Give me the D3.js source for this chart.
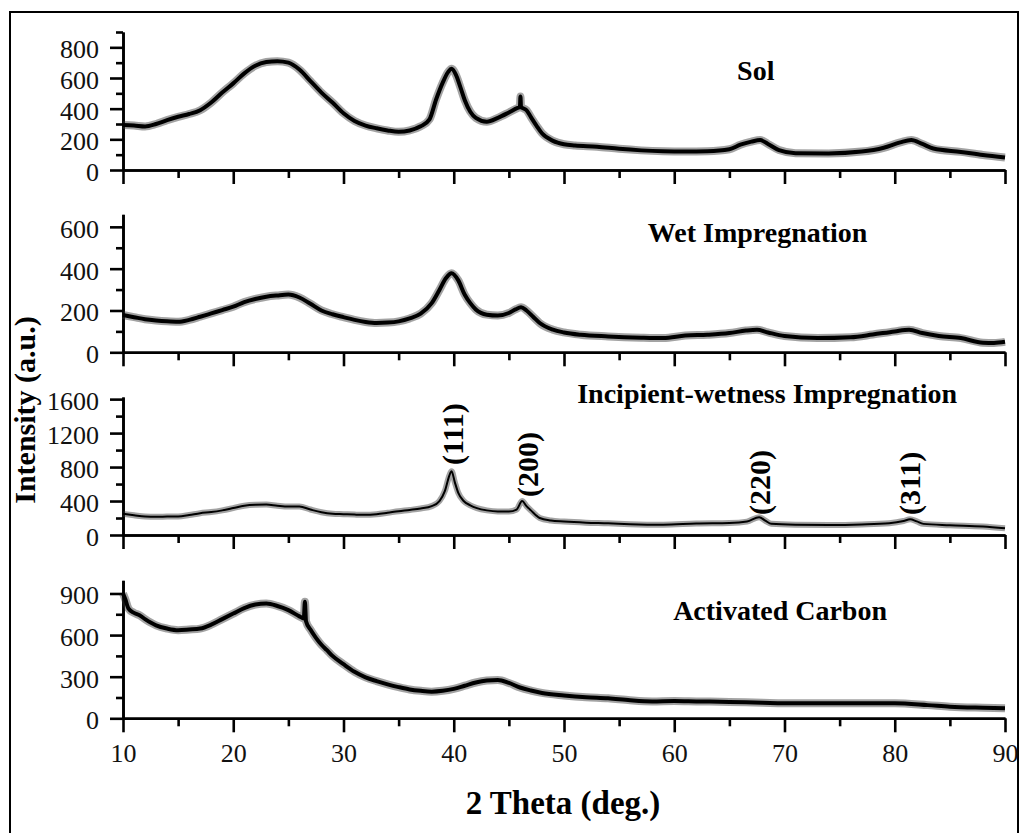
<!DOCTYPE html>
<html>
<head>
<meta charset="utf-8">
<script src="https://cdn.jsdelivr.net/npm/d3@7"></script>
<style>
  body { margin: 0; background: #fff; }
  svg { display: block; }
</style>
</head>
<body>
<div id="chart"></div>
<script>

// XRD patterns, [2 theta, intensity]
const sol = [
  [10,293],[11,290],[12,284],[13,300],[14,325],[15,347],[16,365],[17,390],[18,440],[19,505],
  [20,565],[21,630],[22,680],[23,704],[24,710],[25,700],[26,655],[27,580],[28,505],[29,440],
  [30,370],[31,320],[32,290],[33,272],[34,258],[35,249],[36,258],[37,285],[37.8,330],[38.4,460],
  [39,570],[39.5,640],[39.8,660],[40.2,620],[40.6,540],[41,455],[41.5,380],[42,340],[43,315],[44,340],
  [45,375],[45.8,405],[46,410],[46.05,480],[46.1,412],[46.6,390],[47,345],[47.5,290],[48,240],[49,190],
  [50,168],[51,160],[53,152],[55,138],[57,128],[59,122],[61,120],[63,122],[65,135],[66,165],
  [67,185],[67.8,195],[68.5,170],[69.5,130],[71,110],[74,108],[77,120],[79,145],[80.5,180],[81.5,195],
  [82.5,170],[83.5,140],[86,118],[88,98],[90,82]
] ;

const wetImpregnation = [
  [10,178],[11,168],[12,158],[13,152],[14,148],[15,146],[16,155],[17,170],[18,186],[19,202],
  [20,218],[21,240],[22,255],[23,266],[24,272],[25,276],[26,262],[27,232],[28,200],[29,182],
  [30,168],[31,155],[32,145],[33,140],[34,142],[35,148],[36,162],[37,185],[38,235],[38.7,298],
  [39.3,355],[39.8,378],[40.4,345],[41,275],[41.5,235],[42,205],[43,180],[44,176],[45,188],[45.6,205],
  [46.1,215],[46.6,200],[47.2,170],[47.8,140],[49,108],[50,95],[51.5,84],[54,76],[57,70],[59,68],
  [61,80],[63,84],[65,92],[66.5,104],[67.5,108],[68.5,95],[70,78],[73,68],[76,72],[78,85],
  [80,100],[81.3,108],[82.5,92],[84,78],[86,68],[88,46],[89,45],[90,50]
] ;

const incipientWetness = [
  [10,249],[11,232],[12,217],[13,215],[14,217],[15,218],[16,235],[17,257],[18,270],[19,290],
  [20,317],[21,345],[22,356],[23,358],[24,345],[25,336],[26,336],[27,300],[28,268],[29,250],
  [30,245],[31,240],[32,237],[33,245],[34,262],[35,280],[36,295],[37,312],[38,340],[38.7,400],
  [39.2,520],[39.6,700],[39.8,752],[40.1,620],[40.4,500],[40.9,400],[41.5,350],[42.1,317],[43,290],[44,277],
  [45,277],[45.7,300],[46.2,400],[46.6,340],[47,290],[47.8,200],[48.8,170],[50,158],[52,145],[54,138],
  [56,128],[59,122],[62,135],[65,140],[66.6,158],[67.7,210],[68.3,165],[68.8,132],[71,122],[74,119],
  [77,125],[79.5,139],[80.8,165],[81.4,186],[82,160],[82.6,131],[85,115],[88,100],[90,79]
] ;

const activatedCarbon = [
  [10,900],[10.2,860],[10.5,791],[11,760],[11.5,743],[12,715],[12.5,690],[13,670],[14,647],[15,635],
  [16,640],[17,647],[18,675],[19,715],[20,755],[21,795],[22,820],[23,827],[24,810],[25,780],
  [26,735],[26.4,720],[26.5,840],[26.6,700],[27,640],[27.5,580],[28,530],[28.5,491],[29,450],[30,390],
  [31,335],[32,295],[33,268],[34,245],[35,225],[36,208],[37,198],[38,192],[39,198],[40,212],
  [41,235],[42,258],[43,272],[44,276],[45,255],[46,222],[47,200],[48,183],[50,165],[52,152],
  [54,144],[56,130],[58,122],[60,125],[62,122],[65,118],[68,112],[71,108],[75,108],[80,108],
  [83,95],[85,84],[88,76],[90,72]
] ;

const panelNames = ["Sol", "Wet Impregnation", "Incipient-wetness Impregnation", "Activated Carbon"] ;
const panelSeries = [sol, wetImpregnation, incipientWetness, activatedCarbon] ;

// y axes
const yMax = [900, 660, 1625, 995] ;
const yMajor = [[0,200,400,600,800], [0,200,400,600], [0,400,800,1200,1600], [0,300,600,900]] ;
const yMinor = [[100,300,500,700,900], [100,300,500], [200,600,1000,1400], [150,450,750]] ;

// x axis
const xMajor = [10,20,30,40,50,60,70,80,90] ;
const xMinor = [15,25,35,45,55,65,75,85] ;

// reflections on the incipient-wetness pattern
const hklNames = ["(111)", "(200)", "(220)", "(311)"] ;
const hklTheta = [39.9, 46.7, 67.8, 81.4] ;
const hklIntensity = [824, 447, 235, 235] ;

// ---- layout ----
const width = 1020, height = 833 ;
const panelZero = [170, 352.3, 535, 718.3] ;
const panelHeight = 138 ;
const lineWidth = [4, 4, 2, 4] ;
// where each panel name starts, in data units
const nameAt = [[65.7, 585], [57.6, 528], [51.2, 1549], [59.9, 708]] ;

const serif = '"Liberation Serif", "Times New Roman", serif' ;

const svg = d3.select("#chart").append("svg")
    .attr("width", width)
    .attr("height", height)
;

// frame round the figure
svg.append("path")
    .attr("d", "M10,840 V12 H1018 V840")
    .attr("fill", "none")
    .attr("stroke", "#000")
    .attr("stroke-width", 2)
;

const xScale = d3.scaleLinear()
    .domain([10, 90])
    .range([123, 1005])
;

panelSeries.forEach((series, i) => {

  const yScale = d3.scaleLinear()
      .domain([0, yMax[i]])
      .range([panelZero[i], panelZero[i] - panelHeight])
  ;

  const g = svg.append("g") ;

  // minor ticks first, then the majors with labels
  g.append("g")
      .attr("transform", "translate(123,0)")
      .call(d3.axisLeft(yScale).tickValues(yMinor[i]).tickSize(7).tickSizeOuter(0).tickFormat(""))
  ;
  const yAxis = g.append("g")
      .attr("transform", "translate(123,0)")
      .call(d3.axisLeft(yScale).tickValues(yMajor[i]).tickSize(13).tickSizeOuter(0).tickPadding(11)
        .tickFormat(d3.format("d")))
  ;
  yAxis.selectAll("text")
      .attr("dy", "0.4em")
  ;

  g.append("g")
      .attr("transform", `translate(0,${panelZero[i]})`)
      .call(d3.axisBottom(xScale).tickValues(xMinor).tickSize(8).tickSizeOuter(0).tickFormat(""))
  ;
  const xAxis = g.append("g")
      .attr("transform", `translate(0,${panelZero[i]})`)
      .call(d3.axisBottom(xScale).tickValues(xMajor).tickSize(14).tickSizeOuter(0).tickPadding(11))
  ;
  if (i < 3) xAxis.selectAll("text").remove() ;

  g.selectAll(".domain, .tick line")
      .attr("stroke", "#000")
      .attr("stroke-width", 2.6)
  ;
  g.selectAll(".tick text")
      .style("font-family", serif)
      .style("font-size", "26px")
      .attr("fill", "#111")
  ;

  const line = d3.line()
      .x((d) => xScale(d[0]))
      .y((d) => yScale(d[1]))
      .curve(d3.curveMonotoneX)
  ;

  // grey fuzz under the trace stands in for the counting noise
  g.append("path")
      .datum(series)
      .attr("d", line)
      .attr("fill", "none")
      .attr("stroke", "#333")
      .attr("stroke-opacity", 0.45)
      .attr("stroke-width", lineWidth[i] + 4)
      .attr("stroke-linejoin", "round")
  ;
  g.append("path")
      .datum(series)
      .attr("d", line)
      .attr("fill", "none")
      .attr("stroke", "#000")
      .attr("stroke-width", lineWidth[i])
      .attr("stroke-linejoin", "round")
  ;

  g.append("text")
      .attr("x", xScale(nameAt[i][0]))
      .attr("y", yScale(nameAt[i][1]))
      .attr("font-family", serif)
      .attr("font-weight", "bold")
      .attr("font-size", 28)
      .text(panelNames[i])
  ;

  if (i == 2) {
    hklNames.forEach((h, k) => {
      g.append("text")
          .attr("transform", `translate(${xScale(hklTheta[k]) + 10},${yScale(hklIntensity[k])}) rotate(-90)`)
          .attr("font-family", serif)
          .attr("font-weight", "bold")
          .attr("font-size", 30)
          .text(h)
      ;
    }) ;
  }
}) ;

// axis titles
svg.append("text")
    .attr("x", 563)
    .attr("y", 814)
    .attr("text-anchor", "middle")
    .attr("font-family", serif)
    .attr("font-weight", "bold")
    .attr("font-size", 33)
    .text("2 Theta (deg.)")
;

svg.append("text")
    .attr("transform", "translate(35,410) rotate(-90)")
    .attr("text-anchor", "middle")
    .attr("font-family", serif)
    .attr("font-weight", "bold")
    .attr("font-size", 30)
    .text("Intensity (a.u.)")
;

</script>
</body>
</html>
